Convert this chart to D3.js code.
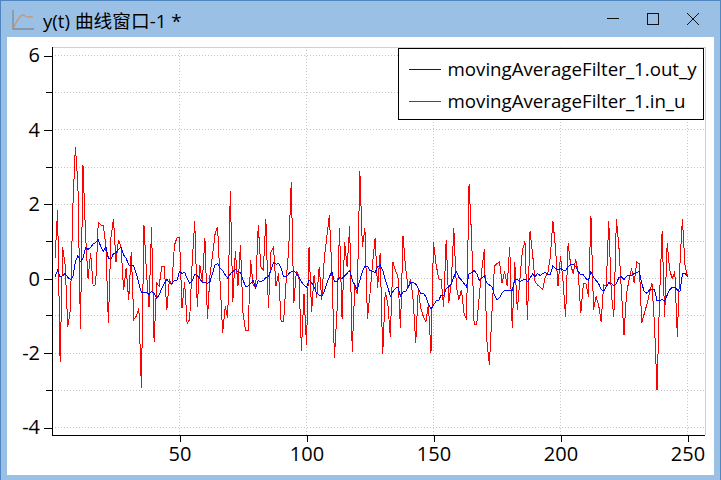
<!DOCTYPE html>
<html><head><meta charset="utf-8">
<script src="https://cdn.jsdelivr.net/npm/d3@7"></script>
<style>html,body{margin:0;padding:0;background:#fff;overflow:hidden}svg{display:block}text{font-family:"Open Sans","Noto Sans CJK SC",sans-serif;fill:#000}</style>
</head><body><div id="c"></div>
<script>
const titleText = "y(t) 曲线窗口-1 *";
const seriesNames = ["movingAverageFilter_1.out_y","movingAverageFilter_1.in_u"];
const xTicks = [50,100,150,200,250];
const yMajor = [-4,-2,0,2,4,6];
const yMinor = [-3,-1,1,3,5];
const inU = [.55,1.85,-2.25,.85,.35,-1.3,-.85,1.9,3.55,2.55,-1.35,3.05,1.2,0,.7,-.2,-.15,1.5,1.45,1.42,.9,-1.2,1.1,1.6,.45,1.05,.85,-.3,.28,-.57,.72,-1.1,-1,-.8,-2.93,1.45,.15,-.75,1.38,-1.7,-.12,-.2,.34,.34,-.85,-.03,-.17,.9,1.1,1.1,-.8,-.08,-1.2,-1.1,.45,1.55,-.75,.38,-.08,1.1,-1.07,.1,.63,1.2,1.4,-.13,-1.45,-.75,-1.05,2.35,-.62,.75,-.2,.9,-.93,-1.38,-1.38,.5,-.17,-.25,1.45,.32,.23,1.6,-.8,.72,.85,-.2,.15,-1.15,-1.15,-.03,.8,2.6,-.66,.19,.1,-1.93,-.4,-1.78,.86,-.89,.1,-.53,.32,-.57,.55,1.12,1.7,.19,-2.12,-.89,1.35,-1.07,.98,.32,1.42,-1.96,-.2,-.4,2.9,.86,1.35,-1.07,-.4,.4,1.1,-.25,.7,-2.03,-.35,-.66,-1.56,.45,.23,.05,-1.33,1.15,.3,-.25,0,-.57,-1.74,-.3,-.8,-1.02,-1.15,-.7,-2,.98,.4,0,-.03,-.75,1.05,-.66,-.12,1.35,-.2,-.57,-.3,-.93,-1.1,2.55,1.13,-1.23,-1.23,-.48,.23,.79,-1.65,-2.32,-.93,.34,.41,.45,-.12,.2,-.2,.86,-1.33,.45,-.84,-.03,.77,1,-1.1,1.27,.68,-.08,-.17,-.23,-.29,.05,.14,.6,1.55,.86,-.2,.6,-.08,-1.02,.95,.37,.14,.52,.14,-.93,-.14,-.12,-.48,1.68,-.84,-.48,-.7,-1.15,-.17,-.2,1.55,-.4,-1.02,1.6,.86,-.35,-1.51,-.4,-.03,.28,-.12,.45,.4,-1.2,-.93,-.7,-.4,-.12,-1.23,-3,-.48,1.27,-1.02,.95,.23,0,.19,-1.56,.37,1.6,.37,.05];
const outY = [.05,.23,.05,.08,.14,.04,-.02,.03,.46,.62,.46,.55,.84,.79,.84,.93,.97,1.06,.86,.73,.86,.55,.52,.68,.7,.79,.84,.64,.55,.37,.35,.34,.14,-.13,-.38,-.37,-.38,-.42,-.35,-.39,-.53,-.44,-.26,-.14,-.01,-.11,-.14,-.04,-.04,.19,.14,.17,.01,-.11,-.06,.12,.08,.01,-.11,-.1,-.13,-.08,.14,.37,.41,.28,.22,.1,.01,.13,.19,.25,.19,.16,-.04,-.2,-.2,-.13,-.04,-.26,-.05,-.08,-.05,.03,.05,.23,.43,.39,.41,.28,.05,.05,.13,.19,.21,.14,.05,-.08,-.17,-.24,-.04,-.11,-.22,-.39,-.44,-.47,-.35,-.13,.05,.19,-.08,-.08,.03,.01,.07,.14,.23,-.04,-.17,-.3,-.04,.19,.34,.34,.22,.2,.16,.32,.37,.23,-.04,-.22,-.48,-.35,-.26,-.22,-.47,-.35,-.35,-.22,-.11,-.11,-.14,-.26,-.39,-.39,-.48,-.68,-.82,-.71,-.6,-.59,-.44,-.46,-.26,-.22,-.14,.05,.19,.04,-.04,-.13,-.22,.13,.16,.22,.14,-.04,.01,.07,-.11,-.17,-.22,-.44,-.56,-.51,-.39,-.32,-.33,-.33,-.32,-.04,-.02,-.08,-.04,-.01,-.08,.01,.13,.05,.14,.08,.14,.17,.12,.12,.35,.28,.23,.28,.23,.22,.32,.39,.39,.32,.19,.1,.1,.01,-.05,.19,.04,-.05,-.13,-.29,-.33,-.22,-.11,-.13,-.19,-.14,.04,.05,-.02,.07,.08,.09,.14,.16,.19,-.13,-.35,-.39,-.3,-.28,-.29,-.59,-.59,-.56,-.6,-.44,-.3,-.23,-.23,-.3,-.35,.13,.14,.05];

const W=721,H=480;
const svg=d3.select("#c").append("svg").attr("width",W).attr("height",H);
// window frame
svg.append("rect").attr("width",W).attr("height",H).attr("fill","#9bc0e6");
svg.append("rect").attr("x",.5).attr("y",.5).attr("width",W-1).attr("height",H).attr("fill","none").attr("stroke","#4f86c0").attr("stroke-width",1);
svg.append("rect").attr("x",7).attr("y",37).attr("width",707).attr("height",438).attr("fill","#fff");
// title icon
const ic=svg.append("g").attr("fill","none").attr("shape-rendering","auto");
ic.append("path").attr("d","M13 10V29H34").attr("stroke","#808a96").attr("stroke-width",1.3);
ic.append("path").attr("d","M14 27C18 18 21 14 24 15C27 19 30 16 33 17").attr("stroke","#d0905a").attr("stroke-width",1.2);
svg.append("text").attr("x",43).attr("y",28).attr("font-size",18.7).text(titleText);
// window buttons
const btn=svg.append("g").attr("fill","none").attr("stroke","#111").attr("stroke-width",1);
btn.append("line").attr("x1",607).attr("x2",619).attr("y1",18.5).attr("y2",18.5);
btn.append("rect").attr("x",647.5).attr("y",13.5).attr("width",11).attr("height",11);
btn.append("path").attr("d","M687 13L699 25M699 13L687 25");

const pL=52,pR=704.5,pT=47,pB=435;
const x=d3.scaleLinear().domain([50,250]).range([179.5,687.5]);
const y=d3.scaleLinear().domain([-4,6]).range([427.5,55.5]);
// plot border
svg.append("path").attr("d",`M${pL} ${pT+.5}H${pR+.5}V${pB}`).attr("fill","none").attr("stroke","#d0d0d0").attr("shape-rendering","crispEdges");
// grid
const grid=svg.append("g").attr("stroke","#c4c4c4").attr("stroke-dasharray","1 2").attr("shape-rendering","crispEdges");
grid.selectAll(".h").data(yMajor.concat(yMinor)).join("line").attr("class","h").attr("x1",pL).attr("x2",pR).attr("y1",d=>y(d)).attr("y2",d=>y(d));
grid.selectAll(".v").data(xTicks).join("line").attr("class","v").attr("y1",pT).attr("y2",pB).attr("x1",d=>x(d)).attr("x2",d=>x(d));
// series
const lineGen=d3.line().x((d,i)=>x(i+1)).y(d=>y(d));
const plot=svg.append("g").attr("fill","none").attr("shape-rendering","crispEdges").attr("stroke-width",1);
plot.append("path").datum(inU).attr("d",lineGen).attr("stroke","#ff0000");
plot.append("path").datum(outY).attr("d",lineGen).attr("stroke","#0000ff");
// axes
const gy=svg.append("g").attr("transform",`translate(${pL},0)`)
 .call(d3.axisLeft(y).tickValues(yMajor).tickSize(8).tickPadding(4).tickFormat(d=>d<0?"-"+Math.abs(d):d));
gy.selectAll(".tick text").attr("font-size",20).attr("font-family",'"Open Sans",sans-serif').attr("fill","#000");
gy.select(".domain").attr("d",`M0.5 ${pT}V${pB+.5}`).attr("stroke","#000");
svg.append("g").attr("stroke","#000").attr("shape-rendering","crispEdges").selectAll("line").data(yMinor).join("line")
 .attr("x1",pL-6).attr("x2",pL).attr("y1",d=>y(d)).attr("y2",d=>y(d));
const gx=svg.append("g").attr("transform",`translate(0,${pB})`)
 .call(d3.axisBottom(x).tickValues(xTicks).tickSize(7).tickPadding(5));
gx.selectAll(".tick text").attr("font-size",20).attr("font-family",'"Open Sans",sans-serif').attr("fill","#000");
gx.select(".domain").attr("d",`M${pL} 0.5H${pR}`).attr("stroke","#000");
svg.selectAll(".tick line").attr("stroke","#000").attr("shape-rendering","crispEdges");
svg.selectAll(".domain").attr("shape-rendering","crispEdges");
// legend
const lg=svg.append("g");
lg.append("rect").attr("x",398.5).attr("y",48.5).attr("width",305).attr("height",70.5).attr("fill","#fff").attr("stroke","#000").attr("shape-rendering","crispEdges");
const lgColors=["#0000ff","#ff0000"];
const lgY=d3.scalePoint().domain(seriesNames).range([69,101]);
seriesNames.forEach((n,i)=>{
 lg.append("line").attr("x1",409).attr("x2",441).attr("y1",lgY(n)).attr("y2",lgY(n)).attr("stroke",lgColors[i]).attr("shape-rendering","crispEdges");
 lg.append("text").attr("x",447.5).attr("y",lgY(n)+7).attr("font-size",18.7).text(n);
});
</script></body></html>
